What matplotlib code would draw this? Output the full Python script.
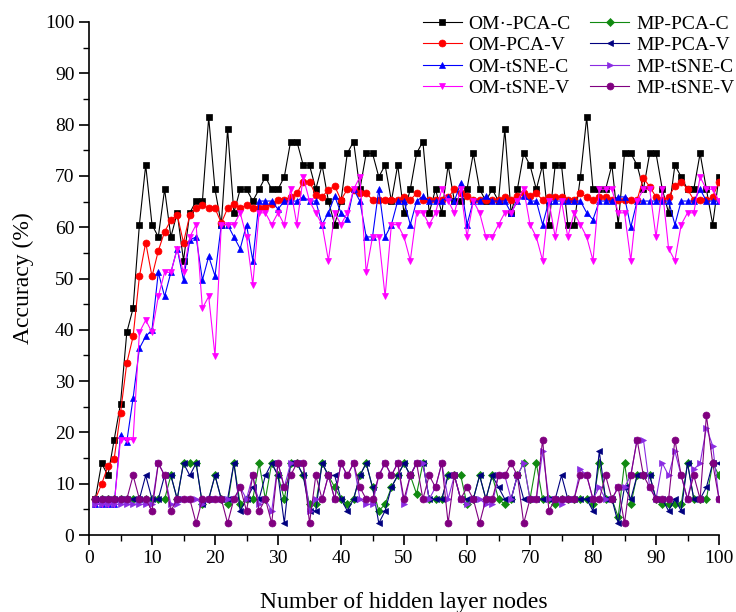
import matplotlib
matplotlib.use("Agg")
import matplotlib.pyplot as plt
from matplotlib.ticker import MultipleLocator

nodes = list(range(1, 101))

om_pca_c = [7.0, 14.0, 11.6, 18.6, 25.6, 39.5, 44.2, 60.5, 72.1, 60.5,
            58.1, 67.4, 58.1, 62.8, 53.5, 62.8, 65.1, 65.1, 81.4, 67.4,
            60.5, 79.1, 62.8, 67.4, 67.4, 65.1, 67.4, 69.8, 67.4, 67.4,
            69.8, 76.7, 76.7, 72.1, 72.1, 67.4, 72.1, 65.1, 60.5, 65.1,
            74.4, 76.7, 67.4, 74.4, 74.4, 69.8, 72.1, 65.1, 72.1, 62.8,
            67.4, 74.4, 76.7, 62.8, 67.4, 62.8, 72.1, 65.1, 65.1, 67.4,
            74.4, 67.4, 65.1, 67.4, 65.1, 79.1, 62.8, 67.4, 74.4, 72.1,
            67.4, 72.1, 60.5, 72.1, 72.1, 60.5, 60.5, 69.8, 81.4, 67.4,
            67.4, 67.4, 72.1, 60.5, 74.4, 74.4, 72.1, 67.4, 74.4, 74.4,
            67.4, 62.8, 72.1, 69.8, 67.4, 67.4, 74.4, 67.4, 60.5, 69.8]

om_pca_v = [7.0, 9.9, 13.4, 14.9, 23.8, 33.5, 38.7, 50.4, 57.0, 50.4,
            55.4, 59.1, 61.4, 62.4, 57.0, 62.4, 63.7, 64.3, 63.7, 63.7,
            60.8, 63.7, 64.5, 63.7, 64.3, 63.7, 63.7, 64.0, 64.5, 65.3,
            65.3, 65.9, 66.6, 68.9, 68.9, 66.2, 65.9, 67.3, 68.0, 65.3,
            67.4, 67.2, 66.6, 66.7, 65.3, 65.3, 65.3, 65.3, 65.3, 65.8,
            65.3, 66.6, 65.3, 65.3, 65.3, 65.3, 65.8, 67.4, 66.6, 66.0,
            65.3, 65.3, 65.3, 65.3, 65.3, 65.8, 65.3, 66.0, 66.6, 66.0,
            66.6, 65.3, 65.9, 65.9, 65.9, 65.3, 65.3, 66.6, 65.9, 65.3,
            65.9, 65.9, 65.3, 65.3, 65.3, 65.3, 65.3, 69.6, 67.9, 65.9,
            65.3, 65.9, 68.0, 68.9, 67.4, 65.3, 65.3, 65.3, 65.9, 68.9]

om_tsne_c = [6.0, 6.0, 6.0, 6.0, 19.5, 18.2, 26.7, 36.4, 38.7, 40.0,
             51.2, 46.5, 51.2, 55.8, 49.7, 57.5, 58.1, 49.7, 54.3, 50.5,
             60.5, 60.5, 58.1, 55.8, 60.5, 53.5, 65.1, 65.1, 65.1, 63.5,
             65.1, 65.1, 65.1, 65.9, 65.1, 65.1, 60.5, 62.8, 66.0, 62.8,
             61.6, 67.4, 65.1, 58.1, 58.1, 67.4, 58.1, 60.5, 65.1, 65.1,
             60.5, 65.1, 66.0, 65.1, 65.1, 65.1, 65.9, 65.1, 68.6, 60.5,
             65.1, 65.1, 66.0, 65.1, 65.1, 65.1, 62.8, 65.1, 66.0, 65.1,
             65.1, 60.5, 65.1, 65.1, 65.1, 65.1, 65.1, 65.1, 62.8, 61.5,
             65.1, 65.1, 65.1, 65.9, 65.9, 60.0, 65.1, 65.1, 65.1, 65.1,
             65.1, 65.1, 60.5, 65.1, 65.1, 65.1, 67.4, 65.1, 65.1, 65.1]

om_tsne_v = [6.0, 6.0, 6.0, 6.0, 18.6, 18.6, 18.6, 39.5, 41.9, 39.5,
             46.5, 51.2, 51.2, 55.8, 51.2, 58.1, 60.5, 44.2, 46.5, 34.9,
             60.5, 60.5, 60.5, 62.8, 58.1, 48.8, 62.8, 62.8, 60.5, 62.8,
             60.5, 67.4, 60.5, 69.8, 65.1, 62.8, 60.5, 53.5, 62.8, 60.5,
             62.8, 67.4, 69.8, 51.2, 58.1, 58.1, 46.5, 60.5, 60.5, 58.1,
             53.5, 62.8, 62.8, 60.5, 62.8, 67.4, 65.1, 62.8, 67.4, 58.1,
             65.1, 62.8, 58.1, 58.1, 60.5, 62.8, 62.8, 65.1, 67.4, 60.5,
             58.1, 53.5, 65.1, 58.1, 65.1, 58.1, 62.8, 60.5, 58.1, 53.5,
             67.4, 67.4, 67.4, 62.8, 62.8, 53.5, 65.1, 67.4, 67.4, 58.1,
             67.4, 55.8, 53.5, 60.5, 62.8, 62.8, 69.8, 67.4, 67.4, 65.1]

mp_pca_c = [7.0, 7.0, 7.0, 7.0, 7.0, 7.0, 7.0, 7.0, 7.0, 7.0,
            7.0, 7.0, 11.6, 7.0, 14.0, 14.0, 14.0, 6.0, 7.0, 11.6,
            7.0, 6.0, 14.0, 6.0, 7.0, 7.0, 14.0, 7.0, 14.0, 11.6,
            7.0, 14.0, 14.0, 11.6, 6.0, 6.0, 14.0, 11.6, 9.3, 7.0,
            6.0, 7.0, 11.6, 14.0, 9.3, 4.7, 6.0, 9.3, 11.6, 14.0,
            11.6, 8.0, 14.0, 7.0, 7.0, 7.0, 11.6, 11.6, 11.6, 6.0,
            7.0, 11.6, 7.0, 11.6, 7.0, 6.0, 7.0, 11.6, 14.0, 7.0,
            14.0, 7.0, 7.0, 6.0, 7.0, 7.0, 7.0, 7.0, 7.0, 6.0,
            14.0, 7.0, 7.0, 3.5, 14.0, 6.0, 11.6, 11.6, 11.6, 7.0,
            6.0, 6.0, 6.0, 6.0, 14.0, 7.0, 7.0, 7.0, 14.0, 11.6]

mp_pca_v = [7.0, 7.0, 7.0, 7.0, 7.0, 7.0, 7.0, 7.0, 11.6, 7.0,
            7.0, 11.6, 11.6, 7.0, 14.0, 11.6, 14.0, 6.0, 7.0, 11.6,
            7.0, 7.0, 14.0, 4.7, 7.0, 9.3, 7.0, 11.6, 14.0, 11.6,
            2.3, 14.0, 14.0, 11.6, 4.7, 4.7, 14.0, 11.6, 11.6, 7.0,
            4.7, 7.0, 11.6, 14.0, 9.3, 2.3, 4.7, 9.3, 11.6, 14.0,
            11.6, 14.0, 14.0, 7.0, 7.0, 7.0, 11.6, 11.6, 7.0, 7.0,
            7.0, 11.6, 7.0, 11.6, 9.3, 7.0, 7.0, 11.6, 7.0, 7.0,
            7.0, 7.0, 7.0, 7.0, 11.6, 7.0, 7.0, 7.0, 7.0, 4.7,
            16.3, 7.0, 7.0, 2.3, 9.3, 7.0, 11.6, 11.6, 11.6, 7.0,
            7.0, 4.7, 7.0, 4.7, 14.0, 7.0, 7.0, 9.3, 14.0, 14.0]

mp_tsne_c = [6.0, 6.0, 6.0, 6.0, 6.0, 6.0, 6.0, 6.0, 6.0, 6.0,
             14.0, 11.6, 6.0, 6.0, 7.0, 7.0, 7.0, 6.0, 7.0, 7.0,
             7.0, 7.0, 7.0, 9.3, 7.0, 11.6, 6.0, 7.0, 4.7, 14.0,
             9.3, 14.0, 14.0, 14.0, 4.7, 7.0, 7.0, 11.6, 7.0, 14.0,
             11.6, 14.0, 7.0, 6.0, 6.0, 11.6, 14.0, 11.6, 14.0, 6.0,
             11.6, 14.0, 14.0, 7.0, 9.3, 14.0, 7.0, 11.6, 7.0, 6.0,
             7.0, 7.0, 6.0, 6.0, 11.6, 11.6, 7.0, 11.6, 14.0, 7.0,
             7.0, 16.3, 7.0, 7.0, 6.0, 7.0, 7.0, 12.8, 11.6, 7.0,
             9.3, 7.0, 7.0, 9.3, 9.3, 11.6, 18.6, 18.6, 9.3, 7.0,
             14.0, 11.6, 16.3, 11.6, 7.0, 12.8, 14.0, 20.9, 17.4, 7.0]

mp_tsne_v = [7.0, 7.0, 7.0, 7.0, 7.0, 7.0, 11.6, 7.0, 7.0, 4.7,
             14.0, 11.6, 4.7, 7.0, 7.0, 7.0, 2.3, 7.0, 7.0, 7.0,
             7.0, 2.3, 7.0, 9.3, 4.7, 11.6, 4.7, 7.0, 2.3, 14.0,
             9.3, 11.6, 14.0, 14.0, 2.3, 11.6, 7.0, 11.6, 7.0, 14.0,
             11.6, 14.0, 9.3, 7.0, 7.0, 11.6, 14.0, 11.6, 14.0, 7.0,
             11.6, 14.0, 7.0, 11.6, 9.3, 14.0, 2.3, 11.6, 7.0, 9.3,
             7.0, 2.3, 7.0, 7.0, 11.6, 11.6, 14.0, 11.6, 2.3, 7.0,
             7.0, 18.6, 4.7, 7.0, 7.0, 7.0, 7.0, 11.6, 11.6, 7.0,
             7.0, 11.6, 7.0, 9.3, 2.3, 11.6, 18.6, 11.6, 9.3, 7.0,
             7.0, 7.0, 18.6, 11.6, 7.0, 11.6, 7.0, 23.3, 14.0, 7.0]

labels = ["OM\u00b7-PCA-C", "OM-PCA-V", "OM-tSNE-C", "OM-tSNE-V",
          "MP-PCA-C", "MP-PCA-V", "MP-tSNE-C", "MP-tSNE-V"]
series = [om_pca_c, om_pca_v, om_tsne_c, om_tsne_v,
          mp_pca_c, mp_pca_v, mp_tsne_c, mp_tsne_v]
colors = ["#000000", "#ff0000", "#0000ff", "#ff00ff",
          "#118a11", "#00007f", "#8a2be2", "#800080"]
markers = ["s", "o", "^", "v", "D", "<", ">", "o"]
msizes = [4.5, 5, 5, 5, 4, 5, 5, 5]

plt.rcParams["font.family"] = ["Liberation Serif", "DejaVu Serif"]

fig = plt.figure(figsize=(7.36, 6.12), dpi=100)
ax = fig.add_axes([89 / 736, 77 / 612, 630 / 736, 513 / 612])

for ys, lab, c, m, s in zip(series, labels, colors, markers, msizes):
    ax.plot(nodes, ys, color=c, marker=m, markersize=s, linewidth=0.8,
            markeredgewidth=0.5, label=lab)

ax.set_xlim(0, 100)
ax.set_ylim(0, 100)
ax.xaxis.set_major_locator(MultipleLocator(10))
ax.xaxis.set_minor_locator(MultipleLocator(5))
ax.yaxis.set_major_locator(MultipleLocator(10))
ax.yaxis.set_minor_locator(MultipleLocator(5))
ax.tick_params(which="major", direction="out", length=7, width=1.2, labelsize=14)
ax.tick_params(which="minor", direction="out", length=4, width=1.0)
for side in ["top", "right"]:
    ax.spines[side].set_visible(False)
for side in ["left", "bottom"]:
    ax.spines[side].set_linewidth(1.2)

ax.set_xlabel("Number of hidden layer nodes", fontsize=17, labelpad=18)
ax.set_ylabel("Accuracy (%)", fontsize=17, labelpad=8)

ax.legend(ncol=2, loc="upper left", bbox_to_anchor=(423 / 736, 1 - 15 / 612),
          bbox_transform=fig.transFigure, frameon=False, fontsize=14,
          borderpad=0, borderaxespad=0, handlelength=2.0, handletextpad=0.35,
          labelspacing=0.2, columnspacing=1.0, numpoints=1)

fig.savefig("out.png", dpi=100)
